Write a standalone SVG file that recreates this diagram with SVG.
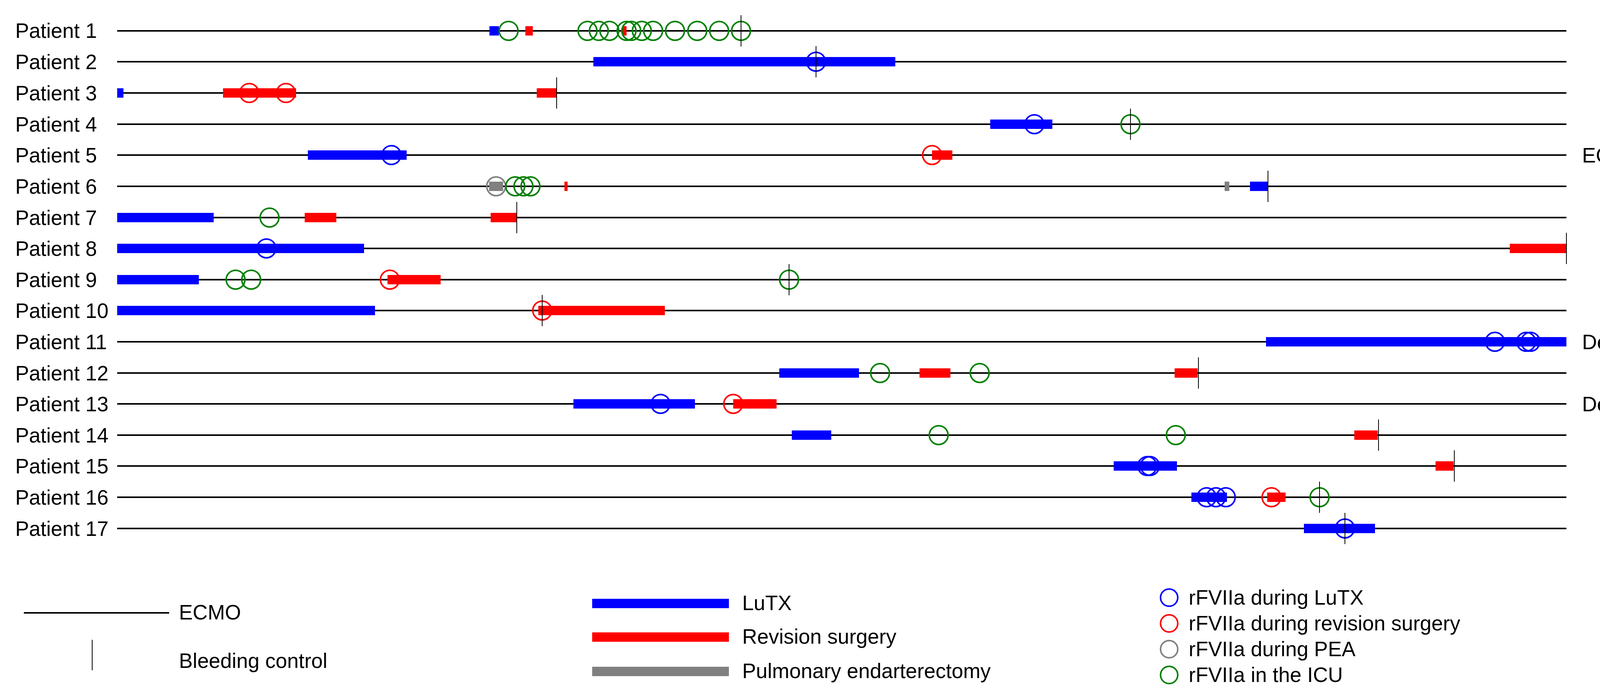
<svg xmlns="http://www.w3.org/2000/svg" width="4354" height="1787" viewBox="0 0 4354 1787">
<style>
text{font-family:"Liberation Sans",Arial,sans-serif;font-size:53px;fill:#000}
.e{stroke:#000;stroke-width:4}
.b{stroke:#000;stroke-width:2}
.L{fill:#0000ff}.R{fill:#ff0000}.G{fill:#808080}
.cb{fill:none;stroke:#0000ff;stroke-width:4}
.cr{fill:none;stroke:#ff0000;stroke-width:4}
.cg{fill:none;stroke:#808080;stroke-width:4}
.cG{fill:none;stroke:#008000;stroke-width:4}
</style>
<defs>
<line id="bl" x1="0" y1="-40" x2="0" y2="40" class="b"/>
</defs>
<g id="labels">
<text x="39" y="97">Patient 1</text><text x="39" y="177">Patient 2</text><text x="39" y="257">Patient 3</text>
<text x="39" y="337">Patient 4</text><text x="39" y="416">Patient 5</text><text x="39" y="496">Patient 6</text>
<text x="39" y="576">Patient 7</text><text x="39" y="655">Patient 8</text><text x="39" y="735">Patient 9</text>
<text x="39" y="814">Patient 10</text><text x="39" y="894">Patient 11</text><text x="39" y="974">Patient 12</text>
<text x="39" y="1053">Patient 13</text><text x="39" y="1133">Patient 14</text><text x="39" y="1212">Patient 15</text>
<text x="39" y="1292">Patient 16</text><text x="39" y="1372">Patient 17</text>
<text x="4050" y="416">ECMO Stop</text><text x="4050" y="894">Death</text><text x="4050" y="1053">Death</text>
</g>
<g id="connectors">
<line class="e" x1="300" y1="79" x2="4010" y2="79"/><line class="e" x1="300" y1="158" x2="4010" y2="158"/>
<line class="e" x1="300" y1="238" x2="4010" y2="238"/><line class="e" x1="300" y1="318" x2="4010" y2="318"/>
<line class="e" x1="300" y1="397" x2="4010" y2="397"/><line class="e" x1="300" y1="477" x2="4010" y2="477"/>
<line class="e" x1="300" y1="557" x2="4010" y2="557"/><line class="e" x1="300" y1="636" x2="4010" y2="636"/>
<line class="e" x1="300" y1="716" x2="4010" y2="716"/><line class="e" x1="300" y1="795" x2="4010" y2="795"/>
<line class="e" x1="300" y1="875" x2="4010" y2="875"/><line class="e" x1="300" y1="955" x2="4010" y2="955"/>
<line class="e" x1="300" y1="1034" x2="4010" y2="1034"/><line class="e" x1="300" y1="1114" x2="4010" y2="1114"/>
<line class="e" x1="300" y1="1193" x2="4010" y2="1193"/><line class="e" x1="300" y1="1273" x2="4010" y2="1273"/>
<line class="e" x1="300" y1="1353" x2="4010" y2="1353"/>
</g>
<g id="bars">
<rect class="L" x="1253" y="67" width="24" height="24"/><rect class="R" x="1345" y="67" width="19" height="24"/><rect class="R" x="1594" y="67" width="10" height="24"/>
<rect class="L" x="1519" y="146" width="773" height="24"/>
<rect class="L" x="300" y="226" width="16" height="24"/><rect class="R" x="571" y="226" width="187" height="24"/><rect class="R" x="1374" y="226" width="50" height="24"/>
<rect class="L" x="2535" y="306" width="159" height="24"/>
<rect class="L" x="788" y="385" width="253" height="24"/><rect class="R" x="2386" y="385" width="52" height="24"/>
<rect class="G" x="1252" y="465" width="36" height="24"/><rect class="R" x="1445" y="465" width="8" height="24"/><rect class="G" x="3135" y="465" width="12" height="24"/><rect class="L" x="3200" y="465" width="46" height="24"/>
<rect class="L" x="300" y="545" width="247" height="24"/><rect class="R" x="780" y="545" width="81" height="24"/><rect class="R" x="1256" y="545" width="67" height="24"/>
<rect class="L" x="300" y="624" width="632" height="24"/><rect class="R" x="3865" y="624" width="145" height="24"/>
<rect class="L" x="300" y="704" width="209" height="24"/><rect class="R" x="992" y="704" width="136" height="24"/>
<rect class="L" x="300" y="783" width="660" height="24"/><rect class="R" x="1378" y="783" width="324" height="24"/>
<rect class="L" x="3241" y="863" width="769" height="24"/>
<rect class="L" x="1995" y="943" width="204" height="24"/><rect class="R" x="2354" y="943" width="79" height="24"/><rect class="R" x="3007" y="943" width="59" height="24"/>
<rect class="L" x="1468" y="1022" width="311" height="24"/><rect class="R" x="1877" y="1022" width="111" height="24"/>
<rect class="L" x="2027" y="1102" width="101" height="24"/><rect class="R" x="3467" y="1102" width="60" height="24"/>
<rect class="L" x="2851" y="1181" width="162" height="24"/><rect class="R" x="3675" y="1181" width="46" height="24"/>
<rect class="L" x="3050" y="1261" width="91" height="24"/><rect class="R" x="3244" y="1261" width="47" height="24"/>
<rect class="L" x="3338" y="1341" width="182" height="24"/>
</g>
<g id="circles">
<circle class="cG" cx="1302" cy="79" r="24"/>
<circle class="cG" cx="1504" cy="79" r="24"/><circle class="cG" cx="1533" cy="79" r="24"/><circle class="cG" cx="1560" cy="79" r="24"/>
<circle class="cG" cx="1604" cy="79" r="24"/><circle class="cG" cx="1616" cy="79" r="24"/><circle class="cG" cx="1643" cy="79" r="24"/><circle class="cG" cx="1672" cy="79" r="24"/>
<circle class="cG" cx="1728" cy="79" r="24"/><circle class="cG" cx="1785" cy="79" r="24"/><circle class="cG" cx="1841" cy="79" r="24"/><circle class="cG" cx="1897" cy="79" r="24"/>
<circle class="cb" cx="2089" cy="158" r="24"/>
<circle class="cr" cx="638" cy="238" r="24"/><circle class="cr" cx="732" cy="238" r="24"/>
<circle class="cb" cx="2648" cy="318" r="24"/><circle class="cG" cx="2894" cy="318" r="24"/>
<circle class="cb" cx="1002" cy="397" r="24"/><circle class="cr" cx="2386" cy="397" r="24"/>
<circle class="cg" cx="1270" cy="477" r="24"/><circle class="cG" cx="1319" cy="477" r="24"/><circle class="cG" cx="1340" cy="477" r="24"/><circle class="cG" cx="1358" cy="477" r="24"/>
<circle class="cG" cx="690" cy="557" r="24"/>
<circle class="cb" cx="682" cy="636" r="24"/>
<circle class="cG" cx="603" cy="716" r="24"/><circle class="cG" cx="643" cy="716" r="24"/><circle class="cr" cx="998" cy="716" r="24"/><circle class="cG" cx="2020" cy="716" r="24"/>
<circle class="cr" cx="1388" cy="795" r="24"/>
<circle class="cb" cx="3827" cy="875" r="24"/><circle class="cb" cx="3907" cy="875" r="24"/><circle class="cb" cx="3918" cy="875" r="24"/>
<circle class="cG" cx="2253" cy="955" r="24"/><circle class="cG" cx="2508" cy="955" r="24"/>
<circle class="cb" cx="1691" cy="1034" r="24"/><circle class="cr" cx="1877" cy="1034" r="24"/>
<circle class="cG" cx="2403" cy="1114" r="24"/><circle class="cG" cx="3010" cy="1114" r="24"/>
<circle class="cb" cx="2937" cy="1193" r="24"/><circle class="cb" cx="2944" cy="1193" r="24"/>
<circle class="cb" cx="3089" cy="1273" r="24"/><circle class="cb" cx="3113" cy="1273" r="24"/><circle class="cb" cx="3138" cy="1273" r="24"/>
<circle class="cr" cx="3255" cy="1273" r="24"/><circle class="cG" cx="3378" cy="1273" r="24"/>
<circle class="cb" cx="3443" cy="1353" r="24"/>
</g>
<g id="bleeding">
<use href="#bl" x="1897" y="79"/><use href="#bl" x="2089" y="158"/><use href="#bl" x="1425" y="238"/>
<use href="#bl" x="2894" y="318"/><use href="#bl" x="3246" y="477"/><use href="#bl" x="1323" y="557"/>
<use href="#bl" x="4010" y="636"/><use href="#bl" x="2020" y="716"/><use href="#bl" x="1388" y="795"/>
<use href="#bl" x="3068" y="955"/><use href="#bl" x="3529" y="1114"/><use href="#bl" x="3723" y="1193"/>
<use href="#bl" x="3378" y="1273"/><use href="#bl" x="3443" y="1353"/>
</g>
<g id="legend">
<line class="e" x1="61" y1="1569" x2="433" y2="1569"/><text x="458" y="1586">ECMO</text>
<line class="b" x1="236" y1="1638" x2="236" y2="1716"/><text x="458" y="1710">Bleeding control</text>
<rect class="L" x="1516" y="1533" width="350" height="24"/><text x="1900" y="1562">LuTX</text>
<rect class="R" x="1516" y="1619" width="350" height="24"/><text x="1900" y="1648">Revision surgery</text>
<rect class="G" x="1516" y="1707" width="350" height="24"/><text x="1900" y="1736">Pulmonary endarterectomy</text>
<circle class="cb" cx="2993" cy="1530" r="22"/><text x="3043" y="1548">rFVIIa during LuTX</text>
<circle class="cr" cx="2993" cy="1596" r="22"/><text x="3043" y="1614">rFVIIa during revision surgery</text>
<circle class="cg" cx="2993" cy="1662" r="22"/><text x="3043" y="1680">rFVIIa during PEA</text>
<circle class="cG" cx="2993" cy="1728" r="22"/><text x="3043" y="1746">rFVIIa in the ICU</text>
</g>
</svg>
